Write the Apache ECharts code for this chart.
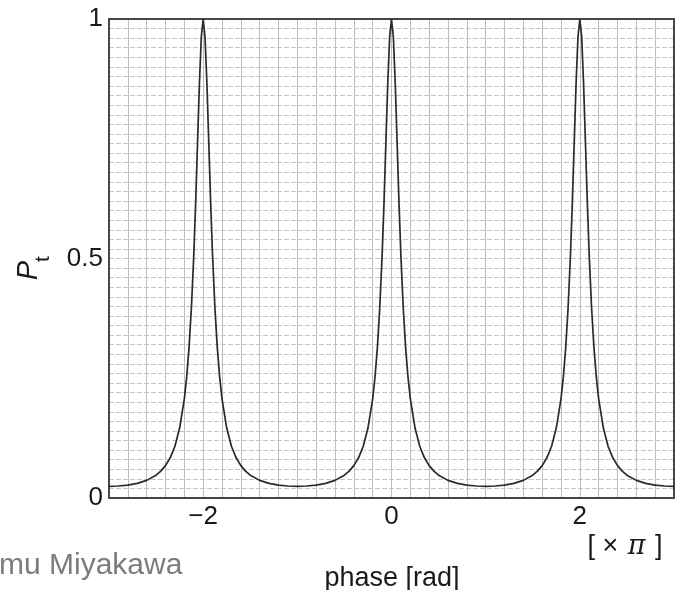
<!DOCTYPE html>
<html>
<head>
<meta charset="utf-8">
<script src="https://cdn.jsdelivr.net/npm/echarts@6/dist/echarts.min.js"></script>
<style>
  html, body { margin: 0; padding: 0; background: #fff; }
  #chart { width: 685px; height: 590px; }
</style>
</head>
<body>
<div id="chart"></div>
<script>
// Phase in units of pi
const phase = [
  -3, -2.9, -2.8, -2.7, -2.6, -2.5, -2.45, -2.4, -2.35, -2.3, -2.25, -2.2, -2.175, -2.15, -2.125, -2.1, -2.08, -2.06, -2.04, -2.02, -2,
  -1.98, -1.96, -1.94, -1.92, -1.9, -1.875, -1.85, -1.825, -1.8, -1.75, -1.7, -1.65, -1.6, -1.55, -1.5, -1.4, -1.3, -1.2, -1.1, -1,
  -0.9, -0.8, -0.7, -0.6, -0.5, -0.45, -0.4, -0.35, -0.3, -0.25, -0.2, -0.175, -0.15, -0.125, -0.1, -0.08, -0.06, -0.04, -0.02, 0,
  0.02, 0.04, 0.06, 0.08, 0.1, 0.125, 0.15, 0.175, 0.2, 0.25, 0.3, 0.35, 0.4, 0.45, 0.5, 0.6, 0.7, 0.8, 0.9, 1,
  1.1, 1.2, 1.3, 1.4, 1.5, 1.55, 1.6, 1.65, 1.7, 1.75, 1.8, 1.825, 1.85, 1.875, 1.9, 1.92, 1.94, 1.96, 1.98, 2,
  2.02, 2.04, 2.06, 2.08, 2.1, 2.125, 2.15, 2.175, 2.2, 2.25, 2.3, 2.35, 2.4, 2.45, 2.5, 2.6, 2.7, 2.8, 2.9, 3
];

// Transmitted power P_t
const transmission = [
  0.0244, 0.0250, 0.0269, 0.0305, 0.0368, 0.0476, 0.0560, 0.0675, 0.0839, 0.108, 0.146, 0.207, 0.253, 0.314, 0.396, 0.505, 0.614, 0.739, 0.864, 0.962, 1,
  0.962, 0.864, 0.739, 0.614, 0.505, 0.396, 0.314, 0.253, 0.207, 0.146, 0.108, 0.0839, 0.0675, 0.0560, 0.0476, 0.0368, 0.0305, 0.0269, 0.0250, 0.0244,
  0.0250, 0.0269, 0.0305, 0.0368, 0.0476, 0.0560, 0.0675, 0.0839, 0.108, 0.146, 0.207, 0.253, 0.314, 0.396, 0.505, 0.614, 0.739, 0.864, 0.962, 1,
  0.962, 0.864, 0.739, 0.614, 0.505, 0.396, 0.314, 0.253, 0.207, 0.146, 0.108, 0.0839, 0.0675, 0.0560, 0.0476, 0.0368, 0.0305, 0.0269, 0.0250, 0.0244,
  0.0250, 0.0269, 0.0305, 0.0368, 0.0476, 0.0560, 0.0675, 0.0839, 0.108, 0.146, 0.207, 0.253, 0.314, 0.396, 0.505, 0.614, 0.739, 0.864, 0.962, 1,
  0.962, 0.864, 0.739, 0.614, 0.505, 0.396, 0.314, 0.253, 0.207, 0.146, 0.108, 0.0839, 0.0675, 0.0560, 0.0476, 0.0368, 0.0305, 0.0269, 0.0250, 0.0244
];

// Labelled ticks
const xTickValues = [-2, 0, 2];
const yTickValues = [0, 0.5, 1];

const FONT = '"Liberation Sans", Arial, Helvetica, sans-serif';
const gridStyle = { color: '#bdbdbd', width: 1 };
const hGridStyle = { color: '#c6c6c6', width: 1, type: [5, 2] };
const frameStyle = { color: '#454545', width: 2 };

const points = phase.map((p, i) => [p, transmission[i]]);

const chart = echarts.init(document.getElementById('chart'), null, { renderer: 'canvas' });

chart.setOption({
  animation: false,
  backgroundColor: '#ffffff',
  grid: {
    left: 109, right: 11, top: 19, bottom: 92,
    containLabel: false,
    outerBoundsMode: 'none'
  },
  xAxis: [{
    type: 'value',
    min: -3, max: 3, interval: 1,
    axisLine: { show: true, onZero: false, lineStyle: frameStyle },
    axisTick: { show: false },
    axisLabel: {
      show: true,
      margin: 6,
      color: '#1a1a1a',
      fontFamily: FONT,
      fontSize: 26,
      showMinLabel: true,
      showMaxLabel: true,
      formatter: v => xTickValues.indexOf(v) >= 0 ? (v < 0 ? '\u2212' + (-v) : String(v)) : ''
    },
    splitLine: { show: true, lineStyle: gridStyle },
    minorTick: { show: false, splitNumber: 5 },
    minorSplitLine: { show: true, lineStyle: gridStyle }
  }, {
    type: 'value', position: 'top',
    min: -3, max: 3, interval: 1,
    axisLine: { show: true, onZero: false, lineStyle: frameStyle },
    axisTick: { show: false }, axisLabel: { show: false }, splitLine: { show: false }
  }],
  yAxis: [{
    type: 'value',
    min: 0, max: 1, interval: 0.5,
    axisLine: { show: true, onZero: false, lineStyle: frameStyle },
    axisTick: { show: false },
    axisLabel: {
      show: true,
      margin: 6,
      color: '#1a1a1a',
      fontFamily: FONT,
      fontSize: 26,
      formatter: v => yTickValues.indexOf(v) >= 0 ? String(v) : ''
    },
    splitLine: { show: true, lineStyle: hGridStyle },
    minorTick: { show: false, splitNumber: 25 },
    minorSplitLine: { show: true, lineStyle: hGridStyle }
  }, {
    type: 'value', position: 'right',
    min: 0, max: 1, interval: 0.5,
    axisLine: { show: true, onZero: false, lineStyle: frameStyle },
    axisTick: { show: false }, axisLabel: { show: false }, splitLine: { show: false }
  }],
  series: [{
    type: 'line',
    data: points,
    xAxisIndex: 0,
    yAxisIndex: 0,
    showSymbol: false,
    symbol: 'none',
    smooth: false,
    clip: true,
    lineStyle: { color: '#2a2a2a', width: 1.7 },
    z: 5
  }],
  graphic: [
    {
      // rotated axis title P_t
      type: 'group',
      x: 32, y: 262,
      rotation: Math.PI / 2,
      children: [
        {
          type: 'text', x: 1, y: -3,
          style: { text: 'P', font: 'italic 29px ' + FONT, fill: '#1a1a1a', align: 'right', verticalAlign: 'middle' }
        },
        {
          type: 'text', x: 0, y: 11,
          style: { text: 't', font: '21px ' + FONT, fill: '#1a1a1a', align: 'left', verticalAlign: 'middle' }
        }
      ]
    },
    {
      type: 'text', x: 392, y: 579,
      style: { text: 'phase [rad]', font: '27px ' + FONT, fill: '#1a1a1a', align: 'center', verticalAlign: 'middle' }
    },
    {
      type: 'text', x: 625, y: 547,
      style: {
        text: '[ × {pi|π} ]',
        font: '27px ' + FONT,
        fill: '#1a1a1a',
        align: 'center',
        verticalAlign: 'middle',
        rich: {
          pi: { fontFamily: '"DejaVu Serif", "Liberation Serif", serif', fontStyle: 'italic', fontSize: 27, fill: '#1a1a1a', padding: [0, 2, 0, 2] }
        }
      }
    },
    {
      type: 'text', x: -1, y: 566,
      style: { text: 'mu Miyakawa', font: '30px ' + FONT, fill: '#7c7c7c', align: 'left', verticalAlign: 'middle' }
    }
  ]
});
</script>
</body>
</html>
